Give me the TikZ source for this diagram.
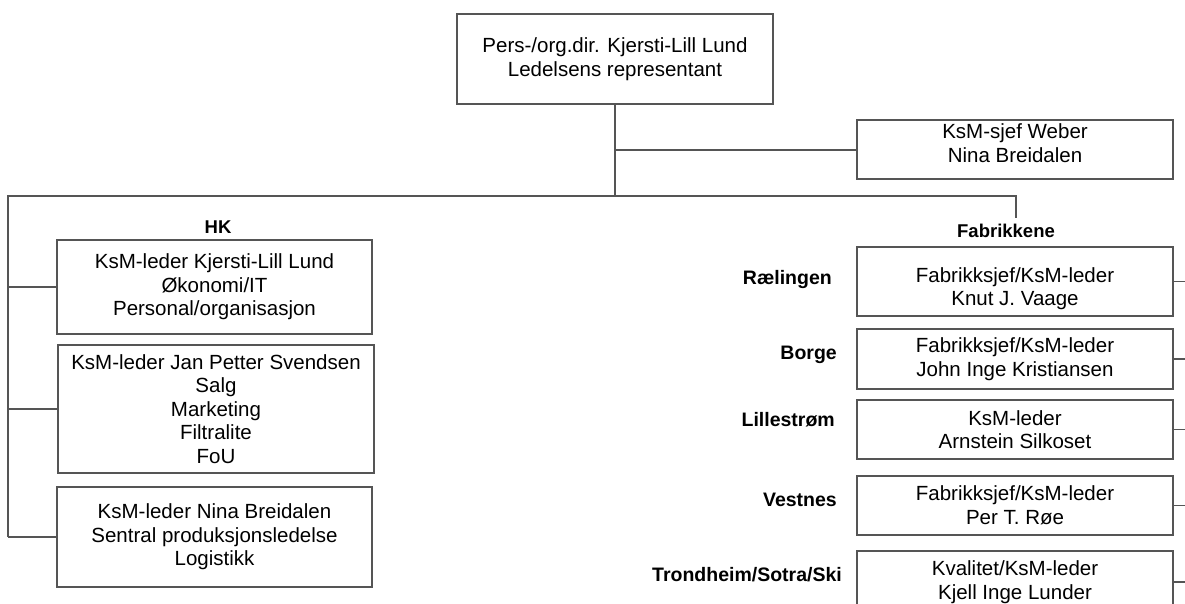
\documentclass[tikz,border=0pt]{standalone}
\usepackage{fontspec}
\setmainfont{Liberation Sans}
\definecolor{linegray}{RGB}{85,85,85}
\begin{document}
\begin{tikzpicture}[x=1pt,y=-1pt,
  box/.style={draw=linegray, line width=1.2pt, minimum width=316pt, inner sep=0pt, align=center, font=\fontsize{20.5}{23.5}\selectfont},
  txt/.style={inner sep=0pt, align=center, font=\fontsize{20.5}{23.5}\selectfont},
  conn/.style={draw=linegray, line width=1.1pt},
  lbl/.style={font=\bfseries\fontsize{19.5}{23}\selectfont, inner sep=0pt, anchor=base east},
  head/.style={font=\bfseries\fontsize{18.5}{20}\selectfont, inner sep=0pt, anchor=base}]
\clip (0,0) rectangle (1185,604);
\fill[white] (0,0) rectangle (1185,604);

% top
\node[box, minimum height=90pt] (top) at (615,59) {Pers-/org.dir. Kjersti-Lill Lund\\Ledelsens representant};
\node[box, minimum height=59pt] (sjef) at (1015,149.5) {};
\node[txt] (sjeft) at (1015,143) {KsM-sjef Weber\\Nina Breidalen};

% HK
\node[head] (hk) at (218,233) {HK};
\node[box, minimum width=315pt, minimum height=94pt] (hk1) at (214.5,287) {KsM-leder Kjersti-Lill Lund\\Økonomi/IT\\Personal/organisasjon};
\node[box, minimum height=128pt] (hk2) at (216,409) {KsM-leder Jan Petter Svendsen\\Salg\\Marketing\\Filtralite\\FoU};
\node[box, minimum width=315pt, minimum height=100pt] (hk3) at (214.5,537) {KsM-leder Nina Breidalen\\Sentral produksjonsledelse\\Logistikk};

% Fabrikkene
\node[head] (fab) at (1006,237) {Fabrikkene};
\node[box, minimum height=69pt] (f1) at (1015,281.5) {};
\node[txt] (f1t) at (1015,288.5) {Fabrikksjef/KsM-leder\\Knut J. Vaage};
\node[box, minimum height=60pt] (f2) at (1015,359) {Fabrikksjef/KsM-leder\\John Inge Kristiansen};
\node[box, minimum height=59pt] (f3) at (1015,429.5) {KsM-leder\\Arnstein Silkoset};
\node[box, minimum height=59pt] (f4) at (1015,505.5) {Fabrikksjef/KsM-leder\\Per T. Røe};
\node[box, minimum height=62pt] (f5) at (1015,582) {Kvalitet/KsM-leder\\Kjell Inge Lunder};

\node[lbl] (l1) at (832,284) {Rælingen};
\node[lbl] (l2) at (837,359) {Borge};
\node[lbl] (l3) at (835,426) {Lillestrøm};
\node[lbl] (l4) at (837,506) {Vestnes};
\node[lbl] (l5) at (842,581) {Trondheim/Sotra/Ski};

% connectors
\coordinate (j1) at (615,150);
\coordinate (j2) at (615,196);
\coordinate (lt) at (8,196);
\coordinate (lb) at (8,537);
\coordinate (rt) at (1016,196);
\coordinate (fe) at (1016,218);
\draw[conn] (top.south) -- (j2);
\draw[conn] (j1) -- (j1 -| sjef.west);
\draw[conn] (lb) -- (lt) -- (rt) -- (fe);
\draw[conn] (hk1.west -| lt) -- (hk1.west);
\draw[conn] (hk2.west -| lt) -- (hk2.west);
\draw[conn] (lb) -- (hk3.west);
\foreach \n in {f1,f2,f3,f4,f5}{\draw[conn] (\n.east) -- ++(20,0);}
\end{tikzpicture}
\end{document}
